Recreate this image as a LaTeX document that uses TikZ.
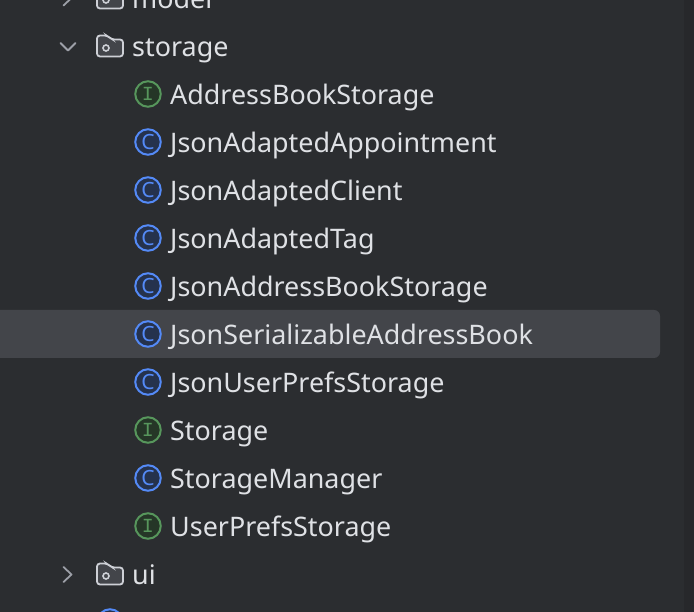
\documentclass[tikz,border=0pt]{standalone}
\usepackage{fontspec}
\setmainfont{Noto Sans}
\newfontfamily\iconfont{Liberation Mono}
\usepackage{xcolor}
\usetikzlibrary{calc}
\definecolor{panel}{HTML}{2B2D30}
\definecolor{strip}{HTML}{27282B}
\definecolor{rowsel}{HTML}{43454A}
\definecolor{txt}{HTML}{DFE1E5}
\definecolor{chev}{HTML}{9DA0A8}
\definecolor{foldfill}{HTML}{43454A}
\definecolor{foldline}{HTML}{CED0D6}
\definecolor{ifill}{HTML}{253627}
\definecolor{iline}{HTML}{57965C}
\definecolor{cfill}{HTML}{25324D}
\definecolor{cline}{HTML}{548AF7}
\tikzset{
  lab/.style={text=txt, font=\fontsize{26.9}{30}\selectfont, anchor=base west, inner sep=0pt},
  ifc/.style={circle, draw=iline, fill=ifill, line width=2pt, minimum size=25.5pt, inner sep=0pt,
    text=iline, font=\iconfont\fontsize{20}{20}\selectfont},
  cls/.style={circle, draw=cline, fill=cfill, line width=2pt, minimum size=25.5pt, inner sep=0pt,
    text=cline, font=\fontsize{21}{21}\selectfont},
  chevron/.style={draw=chev, line width=1.8pt, line cap=round, line join=round},
  folder/.pic={
    \draw[draw=foldline, fill=foldfill, line width=1.8pt, rounded corners=3pt]
      (-13,10.5) -- (-13,-10.5) -- (-2.5,-10.5) -- (1.5,-6.5) -- (13,-6.5) -- (13,10.5) -- cycle;
    \draw[draw=foldline, line width=1.6pt] (-4,2) circle (3);
  },
}
\begin{document}
\begin{tikzpicture}[x=1pt,y=-1pt]
  \useasboundingbox (0,0) rectangle (694,612);
  \fill[panel] (0,0) rectangle (694,612);
  \fill[strip] (684,0) rectangle (694,612);
  \begin{scope}
    \clip (0,0) rectangle (694,612);
    \fill[rowsel, rounded corners=6pt] (-10,310) rectangle (660,358);
    % folders
    \draw[chevron] (63.5,-9.5) -- (71.5,-2) -- (63.5,5.5);
    \pic at (110,-2) {folder};
    \node[lab] (model) at (132,8.5) {model};
    \draw[chevron] (60.5,43) -- (68,50.5) -- (75.5,43);
    \pic at (110,46) {folder};
    \node[lab] (storage) at (132,56.5) {storage};
    \draw[chevron] (63.5,567) -- (71.5,574.5) -- (63.5,582);
    \pic at (110,574) {folder};
    \node[lab] (ui) at (132,584.5) {ui};
    \node[cls] (next) at (110,622) {};
  \end{scope}
  % files
  \foreach \ypos/\kind/\ltr/\fname in {
    94/ifc/I/AddressBookStorage,
    142/cls/C/JsonAdaptedAppointment,
    190/cls/C/JsonAdaptedClient,
    238/cls/C/JsonAdaptedTag,
    286/cls/C/JsonAddressBookStorage,
    334/cls/C/JsonSerializableAddressBook,
    382/cls/C/JsonUserPrefsStorage,
    430/ifc/I/Storage,
    478/cls/C/StorageManager,
    526/ifc/I/UserPrefsStorage}{
    \node[\kind] (icon\fname) at (148,\ypos) {\ltr};
    \coordinate (base\fname) at (170,\ypos+10.5);
    \node[lab] (\fname) at (base\fname) {\fname};
  }
\end{tikzpicture}
\end{document}
